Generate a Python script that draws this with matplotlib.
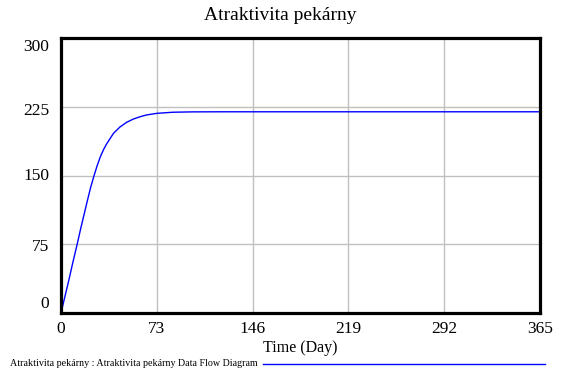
import matplotlib
matplotlib.use("Agg")
import matplotlib.pyplot as plt
from matplotlib.transforms import ScaledTranslation, blended_transform_factory

title = "Atraktivita pekárny"
x_label = "Time (Day)"
legend_label = "Atraktivita pekárny : Atraktivita pekárny Data Flow Diagram"

days = [0, 3, 6, 9, 12, 15, 17.5, 20, 22.5, 25, 27.5, 30, 32.5, 35, 40, 45, 50, 55, 60, 65,
        73, 85, 100, 120, 365]
values = [0, 18, 36, 55, 73, 92, 107, 122, 136.5, 149, 160.5, 170.5, 178.5, 185, 196, 203,
          208, 211.5, 214, 216, 217.8, 219, 219.4, 219.5, 219.5]

x_ticks = [0, 73, 146, 219, 292, 365]
y_ticks = [0, 75, 150, 225, 300]
# vertical nudges (px, positive = down) of the y tick labels as drawn in the reference
y_label_nudge = [-9, 3, 0, 4, 9]

serif = ["Liberation Serif", "DejaVu Serif"]
plt.rcParams["font.family"] = serif

fig = plt.figure(figsize=(5.62, 3.75), dpi=100)
ax = fig.add_axes([61 / 562, 62 / 375, 479 / 562, 275 / 375])

ax.plot(days, values, color="#0000ff", linewidth=1.0)

ax.set_xlim(0, 365)
ax.set_ylim(0, 300)
ax.set_xticks(x_ticks)
ax.set_yticks(y_ticks)
ax.grid(True, color="#c0c0c0", linewidth=1.0)
ax.set_axisbelow(True)
for s in ax.spines.values():
    s.set_linewidth(2.3)
    s.set_color("black")
ax.tick_params(length=0)
ax.set_xticklabels([str(t) for t in x_ticks], fontsize=12.5)
ax.tick_params(axis="x", pad=6)
ax.set_yticklabels([])

trans = blended_transform_factory(ax.transAxes, ax.transData)
for v, nudge in zip(y_ticks, y_label_nudge):
    off = ScaledTranslation(-12 / 100, -nudge / 100, fig.dpi_scale_trans)
    ax.text(0, v, str(v), transform=trans + off, ha="right", va="center", fontsize=12.5)

fig.text(280 / 562, 1 - 15 / 375, title, ha="center", va="center", fontsize=14)
fig.text(300 / 562, 1 - 348 / 375, x_label, ha="center", va="center", fontsize=11.5)
fig.text(10 / 562, 1 - 364 / 375, legend_label, ha="left", va="center", fontsize=7.2)
fig.add_artist(plt.Line2D([263 / 562, 545 / 562], [1 - 364 / 375, 1 - 364 / 375],
                          transform=fig.transFigure, color="#0000ff", linewidth=1.0))

fig.savefig("out.png", dpi=100)
